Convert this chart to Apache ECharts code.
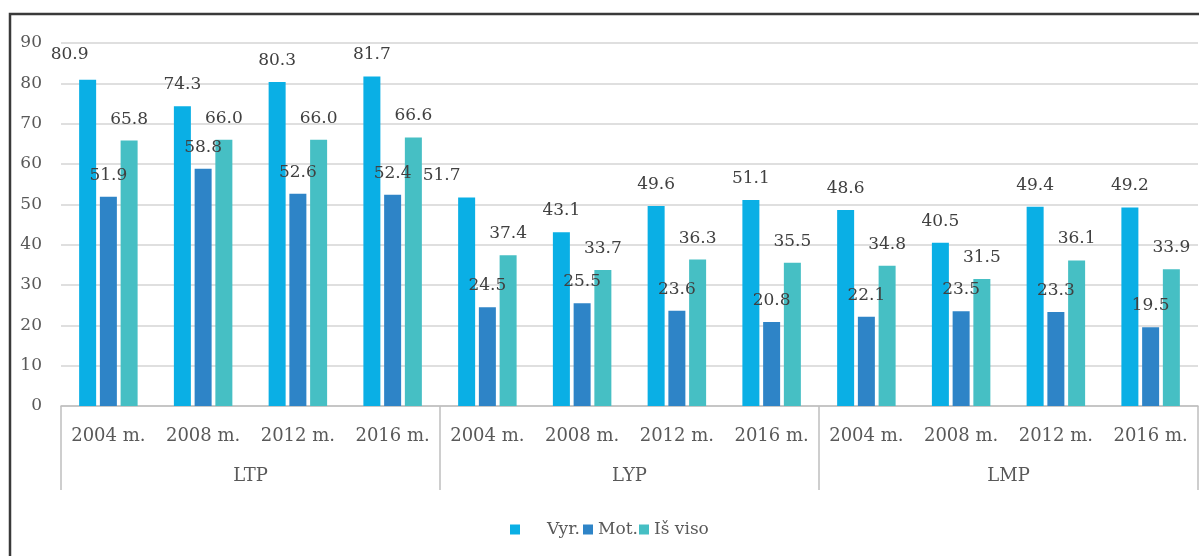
<!DOCTYPE html>
<html>
<head>
<meta charset="utf-8">
<script src="https://cdn.jsdelivr.net/npm/echarts@6/dist/echarts.min.js"></script>
<style>
html,body{margin:0;padding:0;background:#fff;}
#chart{width:1199px;height:556px;}
</style>
</head>
<body>
<div id="chart"></div>
<script>
const years = ['2004 m.','2008 m.','2012 m.','2016 m.','2004 m.','2008 m.','2012 m.','2016 m.','2004 m.','2008 m.','2012 m.','2016 m.'];
const groups = ['LTP','LYP','LMP'];
const seriesNames = ['Vyr.','Mot.','Iš viso'];
const vyr = [80.9, 74.3, 80.3, 81.7, 51.7, 43.1, 49.6, 51.1, 48.6, 40.5, 49.4, 49.2];
const mot = [51.9, 58.8, 52.6, 52.4, 24.5, 25.5, 23.6, 20.8, 22.1, 23.5, 23.3, 19.5];
const isViso = [65.8, 66.0, 66.0, 66.6, 37.4, 33.7, 36.3, 35.5, 34.8, 31.5, 36.1, 33.9];
const yTicks = [0, 10, 20, 30, 40, 50, 60, 70, 80, 90];

const FONT = 'DejaVu Serif';
const colors = ['#0AAFE5', '#2E84C7', '#46BFC4'];

// label nudges seen in the reference (first bar of LTP and LYP groups)
const vyrLabelNudge = {0: [-18, -4], 4: [-25, 0]};

function mkData(arr, nudge) {
  return arr.map((v, i) => {
    const o = {value: v};
    if (nudge && nudge[i]) o.label = {offset: nudge[i]};
    return o;
  });
}

const chart = echarts.init(document.getElementById('chart'));
const labelStyle = {
  show: true, position: 'top', distance: 13,
  fontFamily: FONT, fontSize: 17, color: '#404040',
  formatter: p => Number(p.value).toFixed(1)
};
const seriesData = [vyr, mot, isViso];
const series = seriesNames.map((name, k) => ({
  name: name, type: 'bar', xAxisIndex: 0,
  barWidth: 17, barGap: '22%',
  itemStyle: {color: colors[k]},
  label: labelStyle,
  data: mkData(seriesData[k], k === 0 ? vyrLabelNudge : null)
}));

const legendBase = {
  top: 516, itemWidth: 10, itemHeight: 10, icon: 'rect',
  textStyle: {fontFamily: FONT, fontSize: 17, color: '#595959'},
  selectedMode: false
};

chart.setOption({
  animation: false,
  backgroundColor: '#fff',
  grid: {left: 61, right: 1, top: 43, bottom: 150, containLabel: false},
  legend: [
    Object.assign({}, legendBase, {left: 505, data: [seriesNames[0]], textStyle: Object.assign({}, legendBase.textStyle, {padding: [0, 0, 0, 22]})}),
    Object.assign({}, legendBase, {left: 578, data: [seriesNames[1]]}),
    Object.assign({}, legendBase, {left: 634, data: [seriesNames[2]]})
  ],
  xAxis: [
    {
      type: 'category', data: years, position: 'bottom', offset: 0,
      axisLine: {show: true, lineStyle: {color: '#BFBFBF', width: 1.5}},
      axisTick: {show: false},
      axisLabel: {interval: 0, margin: 21, fontFamily: FONT, fontSize: 18, color: '#595959'}
    },
    {
      type: 'category', data: groups, position: 'bottom', offset: 0, boundaryGap: true,
      axisLine: {show: false},
      axisTick: {show: true, interval: 0, length: 84, lineStyle: {color: '#BFBFBF', width: 1.5}},
      axisLabel: {interval: 0, margin: 61, fontFamily: FONT, fontSize: 18, color: '#595959'}
    }
  ],
  yAxis: {
    type: 'value', min: yTicks[0], max: yTicks[yTicks.length - 1], interval: 10,
    axisLine: {show: false}, axisTick: {show: false},
    axisLabel: {margin: 19, fontFamily: FONT, fontSize: 17, color: '#595959'},
    splitLine: {lineStyle: {color: '#D4D4D4', width: 1.5}}
  },
  series: series,
  graphic: [{
    type: 'rect', z: 100, silent: true,
    shape: {x: 10, y: 14, width: 1220, height: 580},
    style: {fill: 'none', stroke: '#3A3A3A', lineWidth: 2.5}
  }]
});
</script>
</body>
</html>
